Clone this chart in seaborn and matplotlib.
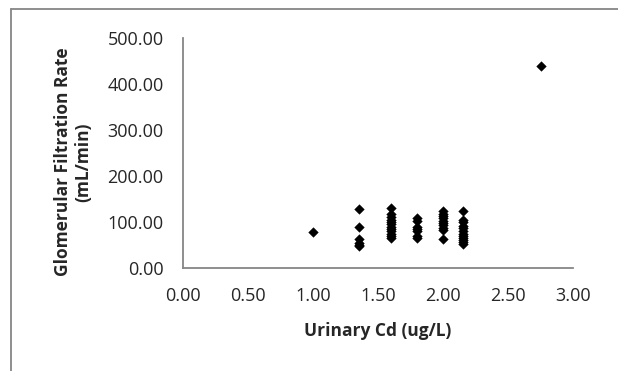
import matplotlib
matplotlib.use("Agg")
import matplotlib.pyplot as plt
import seaborn as sns
import pandas as pd
from matplotlib.lines import Line2D

# Data
cd_values = [1.00,
             1.35, 1.35, 1.35, 1.35, 1.35, 1.35,
             1.60, 1.60, 1.60, 1.60, 1.60, 1.60, 1.60, 1.60, 1.60, 1.60, 1.60, 1.60,
             1.80, 1.80, 1.80, 1.80, 1.80, 1.80, 1.80,
             2.00, 2.00, 2.00, 2.00, 2.00, 2.00, 2.00, 2.00, 2.00, 2.00,
             2.15, 2.15, 2.15, 2.15, 2.15, 2.15, 2.15, 2.15, 2.15, 2.15, 2.15, 2.15,
             2.75]
gfr_values = [79,
              128, 90, 62, 55, 50, 47,
              131, 117, 110, 105, 100, 95, 90, 85, 80, 75, 70, 66,
              108, 103, 90, 85, 80, 70, 65,
              123, 118, 113, 108, 103, 98, 93, 88, 83, 63,
              124, 105, 100, 92, 88, 80, 75, 70, 65, 60, 56, 52,
              440]
x_ticks = [0.0, 0.5, 1.0, 1.5, 2.0, 2.5, 3.0]
y_ticks = [0, 100, 200, 300, 400, 500]

df = pd.DataFrame({"cd": cd_values, "gfr": gfr_values})

sns.set_style("white")
plt.rcParams["font.family"] = ["Open Sans", "DejaVu Sans"]

W, H = 618, 371
fig = plt.figure(figsize=(W / 100, H / 100), dpi=100)
ax = fig.add_axes([183 / W, 1 - 268 / H, 390 / W, 230 / H])

sns.scatterplot(data=df, x="cd", y="gfr", marker="D", s=24, color="black",
                edgecolor="black", linewidth=0.3, ax=ax, legend=False)

ax.set_xlim(0, 3)
ax.set_ylim(0, 500)
ax.set_xticks(x_ticks)
ax.set_yticks(y_ticks)
ax.set_xticklabels([f"{v:.2f}" for v in x_ticks], fontsize=13)
ax.set_yticklabels([f"{v:.2f}" for v in y_ticks], fontsize=13)
ax.tick_params(axis="x", length=0, pad=14)
ax.tick_params(axis="y", length=0, pad=14)

for side in ["top", "right"]:
    ax.spines[side].set_visible(False)
for side in ["left", "bottom"]:
    ax.spines[side].set_color("#868686")
    ax.spines[side].set_linewidth(1.3)

ax.set_xlabel("Urinary Cd (ug/L)", fontsize=12.5, fontweight="bold")
ax.xaxis.set_label_coords((378 - 183) / 390, (268 - 331) / 230)
ax.xaxis.label.set_va("center")

ax.set_ylabel("Glomerular Filtration Rate\n(mL/min)", fontsize=12.5,
              fontweight="bold", linespacing=1.15)
ax.yaxis.set_label_coords((73 - 183) / 390, (268 - 162) / 230)
ax.yaxis.label.set_va("center")

# outer chart border (top and left visible)
fig.add_artist(Line2D([10.5 / W, 1.0], [1 - 9 / H, 1 - 9 / H], color="#868686",
                      linewidth=1.3, transform=fig.transFigure))
fig.add_artist(Line2D([10.5 / W, 10.5 / W], [0, 1 - 9 / H], color="#868686",
                      linewidth=1.3, transform=fig.transFigure))

fig.savefig("out.png", dpi=100, facecolor="white")
